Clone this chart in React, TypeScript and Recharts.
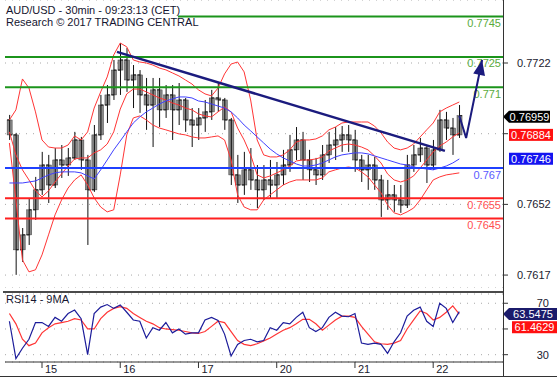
import React from 'react';
import { ComposedChart, Bar, Line, XAxis, YAxis, CartesianGrid, ReferenceLine } from 'recharts';

const FONT = 'Arial, "Liberation Sans", sans-serif';

// 2-hour bars, hours counted from the start of the 15th
const barHours = [
  -10, -8, -6, -4, -2, 0, 2, 4, 6, 8, 10, 12, 14, 16, 18, 20, 22, 24, 26, 28,
  30, 32, 34, 36, 38, 40, 42, 44, 46, 48, 50, 52, 54, 56, 58, 60, 62, 64, 66, 68,
  70, 72, 74, 76, 78, 80, 82, 84, 86, 88, 90, 92, 94, 96, 98, 100, 102, 104, 106, 108,
  110, 112, 114, 116, 118, 120, 122, 124, 126, 128,
];

const opens = [
  0.76938, 0.76864, 0.76295, 0.76369, 0.76493, 0.76592, 0.76715, 0.76616, 0.7674, 0.76715,
  0.7675, 0.76839, 0.7674, 0.76592, 0.76864, 0.77012, 0.77062, 0.77185, 0.77235, 0.77136,
  0.77161, 0.77062, 0.77012, 0.77087, 0.76988, 0.77062, 0.76988, 0.77037, 0.76938, 0.76913,
  0.76948, 0.76978, 0.77047, 0.77037, 0.76938, 0.76666, 0.76616, 0.76691, 0.76641, 0.76592,
  0.76641, 0.76616, 0.76666, 0.76715, 0.7679, 0.76839, 0.7674, 0.76691, 0.76666, 0.76765,
  0.76814, 0.76839, 0.76864, 0.76839, 0.7674, 0.76691, 0.76715, 0.76641, 0.76542, 0.76567,
  0.76542, 0.76517, 0.76715, 0.76765, 0.76799, 0.76715, 0.7679, 0.76938, 0.76898, 0.76864,
];
const highs = [
  0.76963, 0.76874, 0.76403, 0.76552, 0.76656, 0.7678, 0.76765, 0.76799, 0.76814, 0.76799,
  0.76879, 0.76854, 0.76765, 0.76913, 0.77062, 0.77111, 0.77235, 0.77319, 0.77294, 0.7721,
  0.77185, 0.77146, 0.77146, 0.77146, 0.77111, 0.77111, 0.77121, 0.77047, 0.76997, 0.76997,
  0.77037, 0.77087, 0.77121, 0.77047, 0.76948, 0.76765, 0.7678, 0.76799, 0.76715, 0.76715,
  0.7674, 0.7673, 0.7679, 0.76864, 0.76903, 0.76879, 0.7679, 0.7675, 0.76814, 0.76879,
  0.76903, 0.76908, 0.76913, 0.76889, 0.76765, 0.76765, 0.76755, 0.76666, 0.76641, 0.76616,
  0.76616, 0.76765, 0.76814, 0.76849, 0.76814, 0.76839, 0.76988, 0.76978, 0.76948, 0.77012,
];
const lows = [
  0.76839, 0.76171, 0.76235, 0.76319, 0.76443, 0.76567, 0.76527, 0.76601, 0.76651, 0.76661,
  0.7674, 0.76691, 0.76319, 0.76582, 0.76839, 0.76923, 0.77037, 0.77062, 0.77077, 0.76997,
  0.76973, 0.76889, 0.76804, 0.76903, 0.76948, 0.76839, 0.76913, 0.76879, 0.76804, 0.76839,
  0.76879, 0.76938, 0.76978, 0.76889, 0.76616, 0.76527, 0.76567, 0.76592, 0.76502, 0.76542,
  0.76552, 0.76552, 0.76616, 0.76681, 0.7674, 0.76641, 0.76631, 0.76616, 0.76641, 0.76725,
  0.7674, 0.7678, 0.7678, 0.76681, 0.76631, 0.76592, 0.76592, 0.76458, 0.76493, 0.76483,
  0.76478, 0.76502, 0.76681, 0.7673, 0.76626, 0.76691, 0.7678, 0.76839, 0.76765, 0.76849,
];
const closes = [
  0.76864, 0.76295, 0.76369, 0.76493, 0.76592, 0.76715, 0.76616, 0.7674, 0.76715, 0.7675,
  0.76839, 0.7674, 0.76592, 0.76864, 0.77012, 0.77062, 0.77185, 0.77235, 0.77136, 0.77161,
  0.77062, 0.77012, 0.77087, 0.76988, 0.77062, 0.76988, 0.77037, 0.76938, 0.76913, 0.76948,
  0.76978, 0.77047, 0.77037, 0.76938, 0.76666, 0.76616, 0.76691, 0.76641, 0.76592, 0.76641,
  0.76616, 0.76666, 0.76715, 0.7679, 0.76839, 0.7674, 0.76691, 0.76666, 0.76765, 0.76814,
  0.76839, 0.76864, 0.76839, 0.7674, 0.76691, 0.76715, 0.76641, 0.76542, 0.76567, 0.76542,
  0.76517, 0.76715, 0.76765, 0.76799, 0.76715, 0.7679, 0.76938, 0.76898, 0.76864, 0.76959,
];

// Bollinger bands (red) and the moving average (blue)
const bbUpper = [
  0.76938, 0.76988, 0.77141, 0.77096, 0.76978, 0.76839, 0.76804, 0.76799, 0.76799, 0.76814,
  0.76859, 0.76839, 0.76879, 0.76997, 0.77077, 0.77151, 0.7726, 0.77319, 0.773, 0.77235,
  0.77225, 0.7722, 0.7721, 0.77195, 0.77186, 0.77171, 0.77156, 0.77136, 0.77116, 0.77087,
  0.77067, 0.77057, 0.77096, 0.77166, 0.77215, 0.77225, 0.77176, 0.77037, 0.76839, 0.76765,
  0.76755, 0.76755, 0.76765, 0.7679, 0.76829, 0.76839, 0.76839, 0.76844, 0.76859, 0.76889,
  0.76903, 0.76923, 0.76928, 0.76928, 0.76928, 0.76928, 0.76908, 0.76874, 0.76829, 0.76799,
  0.7679, 0.76799, 0.76819, 0.76854, 0.76889, 0.76923, 0.76978, 0.76997, 0.77012, 0.77027,
];
const bbMiddle = [
  0.76879, 0.76765, 0.76691, 0.76641, 0.76587, 0.76557, 0.76587, 0.76631, 0.76671, 0.7671,
  0.76745, 0.7675, 0.7675, 0.76775, 0.7679, 0.76819, 0.76879, 0.76992, 0.77067, 0.77091,
  0.77091, 0.77077, 0.77062, 0.77047, 0.77037, 0.77022, 0.77012, 0.76997, 0.76988, 0.76968,
  0.76958, 0.76953, 0.76978, 0.77002, 0.76978, 0.76898, 0.76839, 0.76765, 0.76666, 0.76651,
  0.76661, 0.76676, 0.76691, 0.7671, 0.76735, 0.7674, 0.7674, 0.76745, 0.76755, 0.76785,
  0.76799, 0.76814, 0.76819, 0.76814, 0.76804, 0.7679, 0.7676, 0.76725, 0.76671, 0.76641,
  0.76631, 0.76641, 0.76661, 0.767, 0.7674, 0.7678, 0.76809, 0.76829, 0.76854, 0.76874,
];
const bbLower = [
  0.76824, 0.76542, 0.76245, 0.76186, 0.76196, 0.7627, 0.76369, 0.76468, 0.76542, 0.76601,
  0.76641, 0.76666, 0.76616, 0.76552, 0.76507, 0.76483, 0.76493, 0.76666, 0.76864, 0.76948,
  0.76958, 0.76938, 0.76913, 0.76898, 0.76889, 0.76879, 0.76869, 0.76864, 0.76854, 0.76849,
  0.76849, 0.76854, 0.76859, 0.76839, 0.7674, 0.76567, 0.76507, 0.76493, 0.76493, 0.76542,
  0.76567, 0.76592, 0.76616, 0.76631, 0.76641, 0.76641, 0.76641, 0.76641, 0.76651, 0.76681,
  0.76691, 0.767, 0.76705, 0.767, 0.76681, 0.76656, 0.76616, 0.76577, 0.76517, 0.76478,
  0.76468, 0.76483, 0.76502, 0.76542, 0.76592, 0.76641, 0.76656, 0.76666, 0.76671, 0.76676,
];
const movingAvg = [
  0.76626, 0.76626, 0.76626, 0.76631, 0.76636, 0.76651, 0.76666, 0.76676, 0.76681, 0.76681,
  0.76681, 0.76676, 0.76661, 0.76646, 0.76691, 0.7674, 0.7679, 0.76834, 0.76879, 0.76923,
  0.76953, 0.76978, 0.76997, 0.77017, 0.77032, 0.77042, 0.77052, 0.77052, 0.77047, 0.77032,
  0.77027, 0.77017, 0.77007, 0.76997, 0.76978, 0.76948, 0.76913, 0.76884, 0.76854, 0.76824,
  0.76794, 0.7677, 0.7675, 0.76735, 0.7672, 0.7671, 0.7671, 0.76715, 0.76725, 0.7674,
  0.76755, 0.76765, 0.7677, 0.76775, 0.76775, 0.7677, 0.7676, 0.7675, 0.7674, 0.7673,
  0.7672, 0.76715, 0.76705, 0.767, 0.76695, 0.76691, 0.767, 0.7671, 0.76725, 0.76745,
];

// RSI 14 and its 9-period average
const rsi14 = [
  56, 27, 35, 42, 55, 55, 52, 59, 56, 62,
  64.7, 58, 30, 62, 67, 69, 66, 68.7, 63, 57,
  56, 43, 51, 49, 55, 47, 50, 46, 47, 47,
  57, 59, 56.7, 46, 29, 38, 41, 42, 40, 41,
  51, 49, 55, 54, 59, 63, 51, 48, 51, 59,
  63, 60, 59.5, 62, 39, 38, 39, 38, 31, 40,
  47, 60, 64.5, 67, 56, 52, 70, 66, 55, 63.5,
];
const rsiMa9 = [
  62, 54, 42, 37, 39, 47, 51, 54, 55, 56,
  58, 57, 50, 50, 58, 63, 66, 67.3, 66, 62,
  59, 56, 54, 51, 50, 49.5, 49, 48, 47, 46.5,
  48, 52, 56, 55, 48, 41, 38, 37, 38.5, 40.7,
  43, 46, 49, 51, 54, 57.5, 57.5, 54, 49, 53,
  57, 60, 60, 59, 52, 46, 40, 38.5, 38, 39,
  41, 50, 57, 64, 62, 57, 59, 63, 68, 61.5,
];

const dayTicks = [0, 24, 48, 72, 96, 120];
const dayLabels = ['15', '16', '17', '20', '21', '22'];
const priceTicks = [0.7617, 0.7652, 0.7687, 0.7722];
const rsiTicks = [30, 50, 70];

const levels = [
  { value: 0.7745, text: '0.7745', line: '#1b941b', label: '#5aab3c', from: 41.7 },
  { value: 0.7725, text: '0.7725', line: '#1b941b', label: '#5aab3c' },
  { value: 0.771, text: '0.771', line: '#1b941b', label: '#5aab3c' },
  { value: 0.767, text: '0.767', line: '#1f40ff', label: '#5a5aff' },
  { value: 0.7655, text: '0.7655', line: '#ff2020', label: '#ff5050' },
  { value: 0.7645, text: '0.7645', line: '#ff2020', label: '#ff5050' },
];

const trendLine = [
  { h: 23.0, p: 0.77275 },
  { h: 123.6, p: 0.76785 },
];
const forecast = [
  { h: 128, p: 0.76959 },
  { h: 130.1, p: 0.76849 },
  { h: 135, p: 0.77235 },
];

const lastPrice = 0.76959;
const lastBand = 0.76884;
const lastMa = 0.76746;
const lastRsi = 63.5475;
const lastRsiMa = 61.4629;

const X_DOMAIN: [number, number] = [-11.35, 141.41];
const Y_DOMAIN: [number, number] = [0.76106, 0.77532];
const RSI_DOMAIN: [number, number] = [24.3, 77.2];

const bars = barHours.map((h, i) => ({
  h,
  open: opens[i],
  high: highs[i],
  low: lows[i],
  close: closes[i],
  upper: bbUpper[i],
  middle: bbMiddle[i],
  lower: bbLower[i],
  ma: movingAvg[i],
}));

const rsiRows = barHours.map((h, i) => ({ h, rsi: rsi14[i], sig: rsiMa9[i] }));

const NAVY = '#1b1b7e';

const Candle = (props: any) => {
  const { x, y, width, height, payload } = props;
  if (!payload || height == null) return <g />;
  const { open, close, high, low } = payload;
  const span = high - low || 1e-6;
  const py = (v: number) => y + ((high - v) / span) * height;
  const cx = x + width / 2;
  const top = py(Math.max(open, close));
  const bot = py(Math.min(open, close));
  return (
    <g>
      <rect x={x} y={top} width={width} height={Math.max(1, bot - top)} fill="#8a8a8a" stroke="#3a3a3a" strokeWidth={0.5} />
      <line x1={cx} x2={cx} y1={y} y2={y + height} stroke="#111" strokeWidth={1} />
      <line x1={x} x2={cx} y1={py(open)} y2={py(open)} stroke="#111" strokeWidth={1} />
      <line x1={cx} x2={x + width} y1={py(close)} y2={py(close)} stroke="#111" strokeWidth={1} />
    </g>
  );
};

const PriceTick = (props: any) => {
  const { x, y, payload } = props;
  if (payload.value === 0.7687) return <g />;
  return (
    <text x={x} y={y} dy={4} fill="#1a1a2e" fontSize={11} fontFamily={FONT} textAnchor="start">
      {payload.value.toFixed(4)}
    </text>
  );
};

const RsiTick = (props: any) => {
  const { x, y, payload } = props;
  if (payload.value === 50) return <g />;
  return (
    <text x={x + 32} y={y} dy={4} fill="#1a1a2e" fontSize={11} fontFamily={FONT} textAnchor="end">
      {payload.value}
    </text>
  );
};

const DayTick = (props: any) => {
  const { x, y, payload } = props;
  const idx = dayTicks.indexOf(payload.value);
  return (
    <g>
      <line x1={x} x2={x} y1={y} y2={y + 6} stroke="#333" />
      <text x={x + 3} y={y + 11} fill="#1a1a2e" fontSize={11} fontFamily={FONT}>
        {dayLabels[idx]}
      </text>
    </g>
  );
};

const LevelLabel = (props: any) => {
  const { viewBox, text, color } = props;
  if (!viewBox) return <g />;
  return (
    <text x={viewBox.x + viewBox.width - 2} y={viewBox.y + 10.5} textAnchor="end" fill={color} fontSize={11} fontFamily={FONT}>
      {text}
    </text>
  );
};

const ValueBox = (props: any) => {
  const { viewBox, text, fill, dy = 0, gap = 6, w = 44, pointer = false } = props;
  if (!viewBox) return <g />;
  const ax = viewBox.x + viewBox.width;
  const cy = viewBox.y + dy;
  const x0 = ax + gap;
  const shape = pointer ? (
    <polygon points={`${ax},${cy} ${x0},${cy - 6} ${x0 + w},${cy - 6} ${x0 + w},${cy + 6} ${x0},${cy + 6}`} fill={fill} />
  ) : (
    <rect x={x0} y={cy - 6} width={w} height={12} fill={fill} />
  );
  return (
    <g>
      {shape}
      <text x={x0 + w / 2} y={cy + 4} textAnchor="middle" fill="#fff" fontSize={11} fontFamily={FONT}>
        {text}
      </text>
    </g>
  );
};

const ArrowHead = (props: any) => {
  const { cx, cy, index, points } = props;
  if (index !== forecast.length - 1 || cx == null) return <g key={`a${index}`} />;
  let ang = -1.44;
  if (points && points[index - 1]) ang = Math.atan2(cy - points[index - 1].y, cx - points[index - 1].x);
  const L = 15;
  const W = 6;
  const bx = cx - L * Math.cos(ang);
  const by = cy - L * Math.sin(ang);
  const px = -Math.sin(ang) * W;
  const py = Math.cos(ang) * W;
  return <polygon key={`a${index}`} points={`${cx},${cy} ${bx + px},${by + py} ${bx - px},${by - py}`} fill={NAVY} />;
};

export default function App() {
  return (
    <div style={{ position: 'absolute', left: 0, top: 0, width: 557, height: 379, background: '#fff', overflow: 'hidden', fontFamily: FONT }}>
      <div style={{ position: 'absolute', left: 0, top: 0 }}>
        <ComposedChart width={557} height={288} data={bars} margin={{ top: 0, right: 0, bottom: 0, left: 5 }}>
          <CartesianGrid vertical={false} stroke="#a8a8a8" strokeDasharray="1 6" />
          <XAxis dataKey="h" type="number" domain={X_DOMAIN} allowDataOverflow hide />
          <YAxis
            orientation="right"
            type="number"
            domain={Y_DOMAIN}
            allowDataOverflow
            ticks={priceTicks}
            interval={0}
            width={54}
            axisLine={false}
            tickLine={{ stroke: '#333' }}
            tickSize={5}
            tickMargin={9}
            tick={<PriceTick />}
          />
          <Bar dataKey={(d: any) => [d.low, d.high]} barSize={5} shape={<Candle />} isAnimationActive={false} />
          <Line dataKey="upper" type="linear" stroke="#ff3535" strokeWidth={1} dot={false} isAnimationActive={false} />
          <Line dataKey="middle" type="linear" stroke="#ff3535" strokeWidth={1} dot={false} isAnimationActive={false} />
          <Line dataKey="lower" type="linear" stroke="#ff3535" strokeWidth={1} dot={false} isAnimationActive={false} />
          <Line dataKey="ma" type="linear" stroke="#4040ff" strokeWidth={1} dot={false} isAnimationActive={false} />
          {levels.map((lv) =>
            lv.from != null ? (
              <ReferenceLine
                key={lv.text}
                segment={[{ x: lv.from, y: lv.value }, { x: X_DOMAIN[1], y: lv.value }]}
                stroke={lv.line}
                strokeWidth={2}
                label={<LevelLabel text={lv.text} color={lv.label} />}
              />
            ) : (
              <ReferenceLine key={lv.text} y={lv.value} stroke={lv.line} strokeWidth={2} label={<LevelLabel text={lv.text} color={lv.label} />} />
            )
          )}
          <ReferenceLine
            segment={[{ x: trendLine[0].h, y: trendLine[0].p }, { x: trendLine[1].h, y: trendLine[1].p }]}
            stroke={NAVY}
            strokeWidth={2.5}
          />
          <Line data={forecast} dataKey="p" type="linear" stroke={NAVY} strokeWidth={2} dot={<ArrowHead />} isAnimationActive={false} />
          <ReferenceLine y={lastMa} stroke="none" label={<ValueBox text={lastMa.toFixed(5)} fill="#1414f0" />} />
          <ReferenceLine y={lastBand} stroke="none" label={<ValueBox text={lastBand.toFixed(5)} fill="#ff1010" dy={4} />} />
          <ReferenceLine y={lastPrice} stroke="none" label={<ValueBox text={lastPrice.toFixed(5)} fill="#000" dy={1} gap={6} w={41} pointer />} />
        </ComposedChart>
      </div>

      <div style={{ position: 'absolute', left: 0, top: 285 }}>
        <ComposedChart width={557} height={94} data={rsiRows} margin={{ top: 9, right: 0, bottom: 0, left: 5 }}>
          <CartesianGrid vertical={false} stroke="#a8a8a8" strokeDasharray="1 6" />
          <XAxis
            dataKey="h"
            type="number"
            domain={X_DOMAIN}
            allowDataOverflow
            ticks={dayTicks}
            interval={0}
            height={17}
            axisLine={{ stroke: '#333' }}
            tickLine={false}
            tickSize={0}
            tickMargin={0}
            tick={<DayTick />}
          />
          <YAxis
            orientation="right"
            type="number"
            domain={RSI_DOMAIN}
            allowDataOverflow
            ticks={rsiTicks}
            interval={0}
            width={54}
            axisLine={false}
            tickLine={{ stroke: '#333' }}
            tickSize={5}
            tickMargin={9}
            tick={<RsiTick />}
          />
          <Line dataKey="sig" type="linear" stroke="#ff3535" strokeWidth={1.2} dot={false} isAnimationActive={false} />
          <Line dataKey="rsi" type="linear" stroke="#1c1c9a" strokeWidth={1.2} dot={false} isAnimationActive={false} />
          <ReferenceLine y={lastRsiMa} stroke="none" label={<ValueBox text={lastRsiMa.toFixed(4)} fill="#ff1010" dy={13} gap={9} w={45} />} />
          <ReferenceLine y={lastRsi} stroke="none" label={<ValueBox text={lastRsi.toFixed(4)} fill="#1b1b6b" dy={2.5} gap={6} w={48} pointer />} />
        </ComposedChart>
      </div>

      {/* frame lines */}
      <div style={{ position: 'absolute', left: 3, top: 291, width: 500, height: 2, background: '#4a4a4a' }} />
      <div style={{ position: 'absolute', left: 503, top: 0, width: 1, height: 377, background: '#333' }} />
      <div style={{ position: 'absolute', left: 0, top: 376, width: 557, height: 1, background: '#333' }} />

      {/* captions */}
      <div style={{ position: 'absolute', left: 6, top: 4, fontSize: 11, lineHeight: '12px', color: '#151530', whiteSpace: 'nowrap' }}>
        AUD/USD - 30min - 09:23:13 (CET)
      </div>
      <div style={{ position: 'absolute', left: 6, top: 16, fontSize: 11, lineHeight: '12px', color: '#151530', whiteSpace: 'nowrap' }}>
        Research © 2017 TRADING CENTRAL
      </div>
      <div style={{ position: 'absolute', left: 6, top: 293, fontSize: 11, lineHeight: '12px', color: '#151530', whiteSpace: 'nowrap' }}>
        RSI14 - 9MA
      </div>
    </div>
  );
}
